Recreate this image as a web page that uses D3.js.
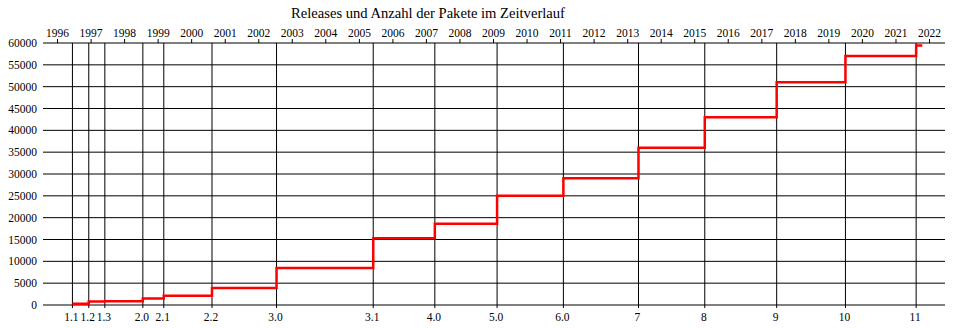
<!DOCTYPE html>
<html>
<head>
<meta charset="utf-8">
<script src="https://cdn.jsdelivr.net/npm/d3@7"></script>
<style>
body { margin: 0; background: #fff; }
text { font-family: "Liberation Serif", "Times New Roman", serif; fill: #000; }
</style>
</head>
<body>
<script>
// Debian-Releases
var releases = ["1.1","1.2","1.3","2.0","2.1","2.2","3.0","3.1","4.0","5.0","6.0","7","8","9","10","11"];
var releaseDates = ["1996-06-17","1996-12-12","1997-06-05","1998-07-24","1999-03-09","2000-08-15",
  "2002-07-19","2005-06-06","2007-04-08","2009-02-14","2011-02-06","2013-05-04","2015-04-26",
  "2017-06-17","2019-07-06","2021-08-14"];
var packages = [300, 800, 850, 1500, 2100, 3900, 8500, 15300, 18600, 25000, 29000, 36000, 43000, 51000, 57000, 59400];
var endDate = "2021-10-20";

var years = [1996,1997,1998,1999,2000,2001,2002,2003,2004,2005,2006,2007,2008,2009,2010,
  2011,2012,2013,2014,2015,2016,2017,2018,2019,2020,2021,2022];
var yTicks = [0,5000,10000,15000,20000,25000,30000,35000,40000,45000,50000,55000,60000];

var w = 960;
var h = 328;
var pLeft = 43, pRight = 945, pTop = 43, pBottom = 305;

var parse = d3.utcParse("%Y-%m-%d");

var xScale = d3.scaleUtc()
  .domain([new Date(Date.UTC(1996,0,1)), new Date(Date.UTC(2022,0,1))])
  .range([57, 929]);

var yScale = d3.scaleLinear()
  .domain([0, 60000])
  .range([pBottom, pTop]);

var svg = d3.select("body").append("svg")
  .attr("width", w).attr("height", h);

// titel
svg.append("text")
  .attr("x", 291).attr("y", 18)
  .attr("font-size", "14.6px")
  .text("Releases und Anzahl der Pakete im Zeitverlauf");

// horizontale linien
svg.selectAll("line.hgrid")
  .data(yTicks)
  .enter()
  .append("line")
  .attr("class", "hgrid")
  .attr("x1", pLeft).attr("x2", pRight)
  .attr("y1", function(d){ return yScale(d); })
  .attr("y2", function(d){ return yScale(d); })
  .attr("stroke", "#000")
  .attr("stroke-width", 1);

// y beschriftung
svg.selectAll("text.ylab")
  .data(yTicks)
  .enter()
  .append("text")
  .attr("class", "ylab")
  .attr("x", 37)
  .attr("y", function(d){ return yScale(d) + 4; })
  .attr("text-anchor", "end")
  .attr("font-size", "11.5px")
  .text(function(d){ return d; });

// jahre oben
var xAxis = d3.axisTop(xScale)
  .tickValues(years.map(function(y){ return new Date(Date.UTC(y,0,1)); }))
  .tickFormat(d3.utcFormat("%Y"))
  .tickSize(4)
  .tickPadding(2);

var gx = svg.append("g")
  .attr("transform", "translate(0," + pTop + ")")
  .call(xAxis);
gx.select(".domain").remove();
gx.selectAll("text")
  .attr("font-size", "11.5px")
  .attr("fill", "#000");
gx.selectAll("line").attr("stroke", "#000");

// release linien
svg.selectAll("line.rel")
  .data(releaseDates)
  .enter()
  .append("line")
  .attr("class", "rel")
  .attr("x1", function(d){ return xScale(parse(d)); })
  .attr("x2", function(d){ return xScale(parse(d)); })
  .attr("y1", pTop).attr("y2", pBottom + 3)
  .attr("stroke", "#000")
  .attr("stroke-width", 1);

svg.selectAll("text.rel")
  .data(releases)
  .enter()
  .append("text")
  .attr("class", "rel")
  .attr("x", function(d,i){ return xScale(parse(releaseDates[i])) - 1; })
  .attr("y", 321)
  .attr("text-anchor", "middle")
  .attr("font-size", "11.5px")
  .text(function(d){ return d; });

// treppenlinie
var points = releaseDates.map(function(d,i){ return [parse(d), packages[i]]; });
points.push([parse(endDate), packages[packages.length - 1]]);

var line = d3.line()
  .x(function(d){ return xScale(d[0]); })
  .y(function(d){ return yScale(d[1]); })
  .curve(d3.curveStepAfter);

svg.append("path")
  .datum(points)
  .attr("d", line)
  .attr("fill", "none")
  .attr("stroke", "#ff0000")
  .attr("stroke-width", 2.5);
</script>
</body>
</html>
